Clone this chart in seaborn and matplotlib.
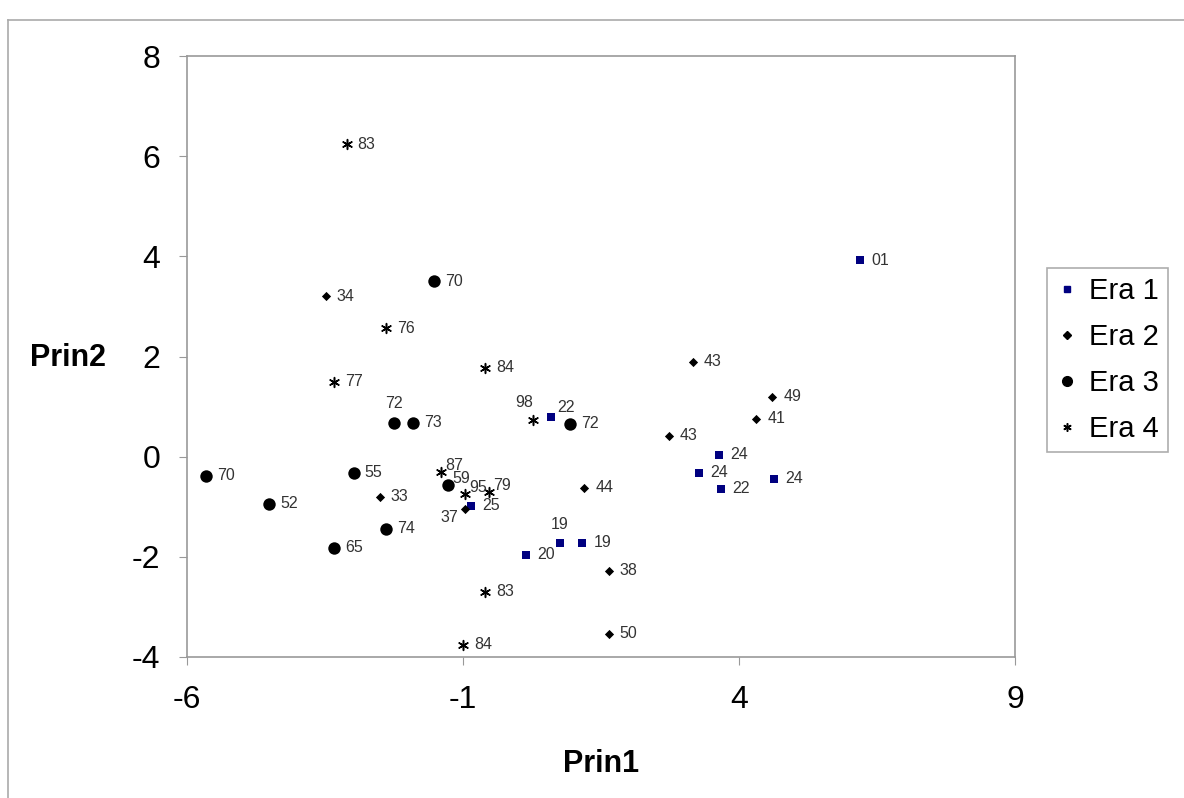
import matplotlib
matplotlib.use("Agg")
import matplotlib.pyplot as plt
from matplotlib.lines import Line2D
import pandas as pd
import seaborn as sns

# Era 1
era1_x = [6.2, 0.6, 3.64, 3.27, 3.67, 4.64, -0.85, 0.15, 0.75, 1.16]
era1_y = [3.92, 0.8, 0.04, -0.32, -0.64, -0.44, -0.98, -1.96, -1.72, -1.72]
era1_lab = ["01", "22", "24", "24", "22", "24", "25", "20", "19", "19"]

# Era 2
era2_x = [-3.49, 3.16, 4.6, 4.31, 2.73, -2.51, -0.96, 1.2, 1.64, 1.64]
era2_y = [3.2, 1.9, 1.2, 0.76, 0.42, -0.8, -1.04, -0.62, -2.28, -3.54]
era2_lab = ["34", "43", "49", "41", "43", "33", "37", "44", "38", "50"]

# Era 3
era3_x = [-1.53, -2.25, -1.91, 0.93, -5.65, -2.98, -4.51, -1.27, -2.4, -3.33]
era3_y = [3.5, 0.68, 0.68, 0.66, -0.38, -0.32, -0.94, -0.56, -1.44, -1.82]
era3_lab = ["70", "72", "73", "72", "70", "55", "52", "59", "74", "65"]

# Era 4
era4_x = [-3.11, -2.4, -3.33, -0.6, 0.27, -1.4, -0.96, -0.53, -0.6, -1.0]
era4_y = [6.24, 2.56, 1.5, 1.78, 0.74, -0.3, -0.74, -0.7, -2.7, -3.76]
era4_lab = ["83", "76", "77", "84", "98", "87", "95", "79", "83", "84"]

eras = ["Era 1", "Era 2", "Era 3", "Era 4"]
xs = [era1_x, era2_x, era3_x, era4_x]
ys = [era1_y, era2_y, era3_y, era4_y]
labs = [era1_lab, era2_lab, era3_lab, era4_lab]

df = pd.concat(
    [pd.DataFrame({"Prin1": x, "Prin2": y, "lab": l, "era": e})
     for e, x, y, l in zip(eras, xs, ys, labs)],
    ignore_index=True,
)

# marker styles per era
styles = {
    "Era 1": dict(marker="s", color="#000080", s=36, linewidth=0),
    "Era 2": dict(marker="D", color="black", s=22, linewidth=0),
    "Era 3": dict(marker="o", color="black", s=80, linewidth=0),
    "Era 4": dict(marker=(6, 2, 0), color="black", s=50, linewidth=1.1),
}

# label placement exceptions (default: to the right)
place = {
    ("Era 1", 1): "tr",
    ("Era 1", 8): "t",
    ("Era 2", 6): "bl",
    ("Era 3", 1): "t",
    ("Era 3", 7): "tr2",
    ("Era 4", 4): "tl",
    ("Era 4", 5): "tr2",
    ("Era 4", 6): "tr2",
    ("Era 4", 7): "tr2",
}
offsets = {
    "r": ((8, 0), "left", "center"),
    "t": ((0, 8), "center", "bottom"),
    "tr": ((4, 1), "left", "bottom"),
    "tl": ((0, 7), "right", "bottom"),
    "tr2": ((3, -1), "left", "bottom"),
    "bl": ((-5, -1), "right", "top"),
}

plt.rcParams["font.family"] = ["Liberation Sans", "DejaVu Sans"]
plt.rcParams["axes.unicode_minus"] = False
fig = plt.figure(figsize=(11.84, 7.98), dpi=100)
ax = fig.add_axes([187 / 1184, 1 - 657 / 798, 828 / 1184, 601 / 798])

for e in eras:
    sub = df[df["era"] == e]
    st = styles[e]
    sns.scatterplot(data=sub, x="Prin1", y="Prin2", ax=ax,
                    marker=st["marker"], color=st["color"], s=st["s"],
                    linewidth=st["linewidth"], edgecolor=st["color"],
                    legend=False, zorder=3)
    for i, (px, py, lab) in enumerate(zip(sub["Prin1"], sub["Prin2"], sub["lab"])):
        (dx, dy), ha, va = offsets[place.get((e, i), "r")]
        ax.annotate(lab, (px, py), xytext=(dx, dy), textcoords="offset points",
                    ha=ha, va=va, fontsize=11.5, color="#333333")

ax.set_xlim(-6, 9)
ax.set_ylim(-4, 8)
ax.set_xticks([-6, -1, 4, 9])
ax.set_yticks([-4, -2, 0, 2, 4, 6, 8])
ax.tick_params(labelsize=23, length=6, color="#999999")
ax.tick_params(axis="x", pad=14)
ax.tick_params(axis="y", pad=13)
for sp in ax.spines.values():
    sp.set_color("#999999")
    sp.set_linewidth(1.2)

ax.set_xlabel("Prin1", fontsize=22, fontweight="bold", labelpad=25)
ax.set_ylabel("Prin2", fontsize=22, fontweight="bold", rotation=0,
              ha="center", va="center")
ax.yaxis.set_label_coords((68 - 187) / 828, (657 - 358) / 601)

handles = [
    Line2D([], [], linestyle="none", marker="s", color="#000080", markersize=5),
    Line2D([], [], linestyle="none", marker="D", color="black", markersize=4),
    Line2D([], [], linestyle="none", marker="o", color="black", markersize=7),
    Line2D([], [], linestyle="none", marker=(6, 2, 0), color="black", markersize=6,
           markeredgewidth=1.1),
]
leg = fig.legend(handles, eras, loc="center left",
                 bbox_to_anchor=(1047 / 1184, 1 - 360 / 798),
                 fontsize=21, frameon=True, fancybox=False, handlelength=0.8,
                 handletextpad=0.35, labelspacing=0.62, borderpad=0.3,
                 borderaxespad=0)
leg.get_frame().set_edgecolor("#999999")
leg.get_frame().set_linewidth(1.2)

# outer chart border
fig.add_artist(Line2D([8 / 1184, 8 / 1184], [0, 1 - 20 / 798],
                      transform=fig.transFigure, color="#aaaaaa", linewidth=1.2))
fig.add_artist(Line2D([8 / 1184, 1], [1 - 20 / 798, 1 - 20 / 798],
                      transform=fig.transFigure, color="#aaaaaa", linewidth=1.2))

fig.savefig("out.png", dpi=100)
